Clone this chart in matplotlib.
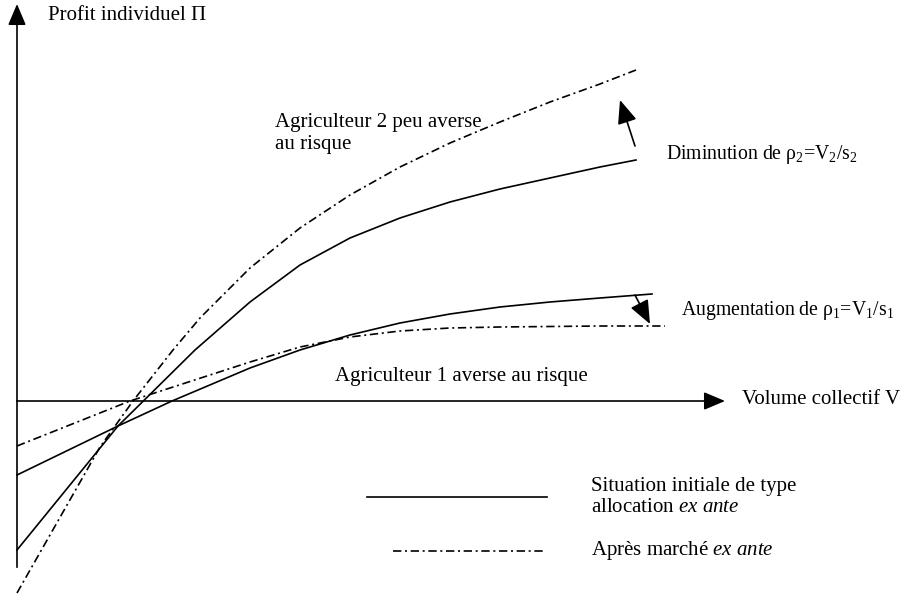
import matplotlib
matplotlib.use("Agg")
import matplotlib.pyplot as plt
import numpy as np

plt.rcParams['font.family'] = ['Liberation Serif', 'DejaVu Serif']
plt.rcParams['mathtext.fontset'] = 'custom'
plt.rcParams['mathtext.rm'] = 'Liberation Serif'
plt.rcParams['mathtext.it'] = 'Liberation Serif:italic'

# curves (x = volume, y = profit; screen units, y downwards)
agr2_x = [17, 118, 195, 250, 300, 350, 400, 450, 500, 550, 600, 636]
agr2_init = [550, 426, 350, 302, 265, 238, 218, 202, 189, 178, 167, 160]
agr2_x_after = [17, 100, 133, 173, 200, 250, 300, 350, 400, 450, 500, 550, 600, 636]
agr2_after = [593, 447, 401, 350, 318, 268, 228, 195, 167, 143, 122, 102, 84, 70]

agr1_x = [17, 118, 172, 250, 300, 350, 400, 450, 500, 550, 600, 652]
agr1_init = [475, 426, 401, 368, 350, 335, 323, 314, 307, 302, 298, 294]
agr1_x_after = [17, 130, 250, 300, 350, 400, 450, 500, 600, 665]
agr1_after = [446, 401, 362, 347, 337, 331, 328, 327, 326, 326]

# axes of the diagram
origin = (17, 401)
y_axis_end = 567
y_axis_top = 4
x_axis_right = 725

label_profit = "Profit individuel Π"
label_volume = "Volume collectif V"
label_agr2 = ["Agriculteur 2 peu averse", "au risque"]
label_agr1 = "Agriculteur 1 averse au risque"
label_dim = "Diminution de ρ$_2$=V$_2$/s$_2$"
label_aug = "Augmentation de ρ$_1$=V$_1$/s$_1$"
legend_init = ["Situation initiale de type", r"allocation $\mathit{ex\ ante}$"]
legend_after = r"Après marché $\mathit{ex\ ante}$"

fig = plt.figure(figsize=(9.04, 5.95), dpi=100)
ax = fig.add_axes([0, 0, 1, 1])
ax.set_xlim(0, 904)
ax.set_ylim(595, 0)
ax.axis('off')

lw = 1.2
dashdot = (0, (5, 2.2, 1.2, 2.2))
fs = 15
fs_rho = 14.2
head = '-|>,head_length=1.3,head_width=0.55'
head_big = '-|>,head_length=1.45,head_width=0.6'

# axes with arrow heads
ax.plot([origin[0], origin[0]], [y_axis_end, y_axis_top + 15], color='black', lw=lw)
ax.plot([origin[0], x_axis_right - 15], [origin[1], origin[1]], color='black', lw=lw)
ax.annotate('', xy=(origin[0], y_axis_top), xytext=(origin[0], y_axis_top + 19),
            arrowprops=dict(arrowstyle=head, color='black', lw=lw, shrinkA=0, shrinkB=0))
ax.annotate('', xy=(x_axis_right, origin[1]), xytext=(x_axis_right - 19, origin[1]),
            arrowprops=dict(arrowstyle=head, color='black', lw=lw, shrinkA=0, shrinkB=0))

# curves
ax.plot(agr2_x, agr2_init, color='black', lw=lw)
ax.plot(agr2_x_after, agr2_after, color='black', lw=lw, linestyle=dashdot)
ax.plot(agr1_x, agr1_init, color='black', lw=lw)
ax.plot(agr1_x_after, agr1_after, color='black', lw=lw, linestyle=dashdot)

# shift arrows
ax.annotate('', xy=(620, 100), xytext=(635, 146),
            arrowprops=dict(arrowstyle=head_big, color='black', lw=lw, shrinkA=0, shrinkB=0))
ax.annotate('', xy=(650, 324), xytext=(635, 295),
            arrowprops=dict(arrowstyle=head_big, color='black', lw=lw, shrinkA=0, shrinkB=0))

# labels
ax.text(48, 16, label_profit, fontsize=fs, va='center', ha='left')
ax.text(742, 400, label_volume, fontsize=fs, va='center', ha='left')
ax.text(275, 122, label_agr2[0], fontsize=fs, va='center', ha='left')
ax.text(275, 144, label_agr2[1], fontsize=fs, va='center', ha='left')
ax.text(335, 376, label_agr1, fontsize=fs, va='center', ha='left')
ax.text(666, 154, label_dim, fontsize=fs_rho, va='center', ha='left')
ax.text(681, 311, label_aug, fontsize=fs_rho, va='center', ha='left')

# legend
ax.plot([367, 547], [497, 497], color='black', lw=lw)
ax.plot([393, 545], [551, 551], color='black', lw=lw, linestyle=dashdot)
ax.text(591, 486, legend_init[0], fontsize=fs, va='center', ha='left')
ax.text(591, 507, legend_init[1], fontsize=fs, va='center', ha='left')
ax.text(591, 551, legend_after, fontsize=fs, va='center', ha='left')

fig.savefig('out.png', dpi=100)
